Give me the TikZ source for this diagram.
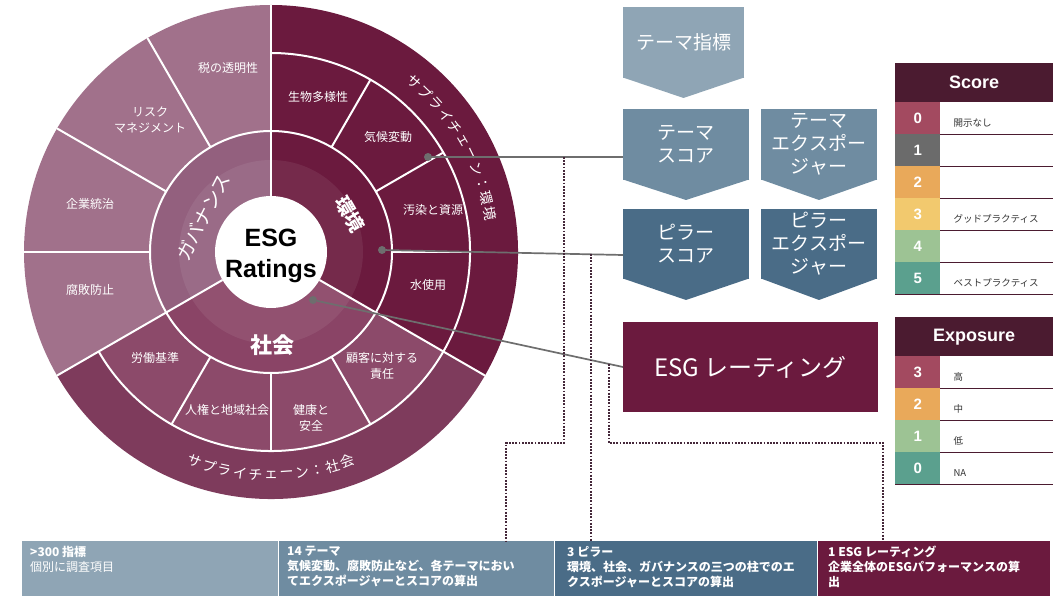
\documentclass[tikz,border=0pt]{standalone}
\usepackage{fontspec}
\setmainfont{Liberation Sans}
\newfontfamily\jp{Noto Sans CJK JP}
\usetikzlibrary{calc}
\definecolor{envc}{HTML}{6B1A3E}
\definecolor{socP}{HTML}{8A4466}
\definecolor{socT}{HTML}{8C4A6A}
\definecolor{socS}{HTML}{7E3B5C}
\definecolor{govP}{HTML}{93607E}
\definecolor{govT}{HTML}{A1718B}
\definecolor{blA}{HTML}{8FA5B5}
\definecolor{blB}{HTML}{6F8CA1}
\definecolor{blC}{HTML}{4A6C87}
\definecolor{hdr}{HTML}{4B1B30}
\definecolor{conn}{HTML}{6E6E6E}
\definecolor{dotc}{HTML}{45283A}
\definecolor{sc0}{HTML}{A34A60}
\definecolor{sc1}{HTML}{6B6B6B}
\definecolor{sc2}{HTML}{E9A95A}
\definecolor{sc3}{HTML}{F2C96E}
\definecolor{sc4}{HTML}{9DC394}
\definecolor{sc5}{HTML}{5BA08E}
\definecolor{lbl}{HTML}{333333}
\begin{document}
\begin{tikzpicture}[x=1pt,y=1pt,
  wlabel/.style={text=white,font=\jp\fontsize{12}{16}\selectfont,align=center,inner sep=0},
  arclabel/.style={text=white,font=\jp\fontsize{14}{14}\selectfont,inner sep=0},
  sepline/.style={white,line width=2},
  cdot/.style={circle,fill=conn,minimum size=8,inner sep=0},
  connline/.style={conn,line width=1.7},
  dotline/.style={dotc,line width=1.8,dash pattern=on 1.8pt off 1.4pt},
  boxnode/.style={fill=#1,text=white,font=\jp\fontsize{19}{23}\selectfont,align=center,inner sep=0,outer sep=0,anchor=north west},
  barnode/.style={fill=#1,anchor=north west,minimum height=55,inner sep=0,outer sep=0},
  bartext/.style={anchor=north west,text=white,align=left,inner sep=0,font=\jp\fontsize{12}{15}\selectfont},
  hdrnode/.style={anchor=north west,fill=hdr,minimum width=158,minimum height=39,inner sep=0,text=white,font=\bfseries\fontsize{18}{18}\selectfont},
  numnode/.style={anchor=north west,fill=#1,minimum width=45,minimum height=32,inner sep=0,text=white,font=\bfseries\fontsize{15}{15}\selectfont},
  legtext/.style={anchor=west,inner sep=0,text=lbl,font=\jp\fontsize{9.5}{10}\selectfont}
]
\useasboundingbox (0,0) rectangle (1061,-596);
\fill[white] (0,0) rectangle (1061,-596);

% ---------------- wheel ----------------
\coordinate (C) at (271,-252);
\def\rA{56}\def\rB{121}\def\rC{199}\def\rD{247}
\fill[envc] (C) -- ++(-30:\rD) arc[start angle=-30,end angle=90,radius=\rD] -- cycle;
\fill[socS] (C) -- ++(210:\rD) arc[start angle=210,end angle=330,radius=\rD] -- cycle;
\fill[socT] (C) -- ++(210:\rC) arc[start angle=210,end angle=330,radius=\rC] -- cycle;
\fill[socP] (C) -- ++(210:\rB) arc[start angle=210,end angle=330,radius=\rB] -- cycle;
\fill[govT] (C) -- ++(90:\rD) arc[start angle=90,end angle=210,radius=\rD] -- cycle;
\fill[govP] (C) -- ++(90:\rB) arc[start angle=90,end angle=210,radius=\rB] -- cycle;
\fill[white,opacity=0.07,even odd rule] (C) circle[radius=92] (C) circle[radius=\rA];
\draw[sepline] (C) circle[radius=\rB];
\draw[sepline] ($(C)+(210:\rC)$) arc[start angle=210,end angle=450,radius=\rC];
\foreach \a in {90,210,330} \draw[sepline] ($(C)+(\a:\rA)$) -- ($(C)+(\a:\rD)$);
\foreach \a in {0,30,60,240,270,300} \draw[sepline] ($(C)+(\a:\rB)$) -- ($(C)+(\a:\rC)$);
\foreach \a in {120,150,180} \draw[sepline] ($(C)+(\a:\rB)$) -- ($(C)+(\a:\rD)$);
\node[circle,fill=white,minimum size=112,inner sep=0] (core) at (C) {};
\node[font=\bfseries\fontsize{25}{31}\selectfont,align=center,inner sep=0] (ratings) at (271,-256) {ESG\\Ratings};

% theme labels
\node[wlabel] (t1) at (228,-68) {税の透明性};
\node[wlabel] (t2) at (150,-120) {リスク\\マネジメント};
\node[wlabel] (t3) at (90,-204) {企業統治};
\node[wlabel] (t4) at (90,-290) {腐敗防止};
\node[wlabel] (t5) at (318,-97) {生物多様性};
\node[wlabel] (t6) at (388,-137) {気候変動};
\node[wlabel] (t7) at (433,-210) {汚染と資源};
\node[wlabel] (t8) at (428,-285) {水使用};
\node[wlabel] (t9) at (155,-358) {労働基準};
\node[wlabel] (t10) at (227,-410) {人権と地域社会};
\node[wlabel] (t11) at (311,-418) {健康と\\安全};
\node[wlabel] (t12) at (382,-366) {顧客に対する\\責任};

% pillar labels
\node[text=white,inner sep=0,font=\jp\bfseries\fontsize{19}{19}\selectfont,rotate=-60] (penv) at (350,-214) {環境};
\node[text=white,inner sep=0,font=\jp\fontsize{19}{19}\selectfont,rotate=63] (pgov) at (203,-217) {ガバナンス};
\node[text=white,inner sep=0,font=\jp\bfseries\fontsize{22}{22}\selectfont] (psoc) at (272,-345) {社会};

% supply chain labels, one character at a time along the outer ring
\foreach \ch [count=\n] in {サ,プ,ラ,イ,チ,ェ,ー,ン,：,環,境}{
  \pgfmathsetmacro\ang{50-4*(\n-1)}
  \node[arclabel,rotate=\ang-90] (sce\n) at ($(C)+(\ang:222)$) {\ch};
}
\foreach \ch [count=\n] in {サ,プ,ラ,イ,チ,ェ,ー,ン,：,社,会}{
  \pgfmathsetmacro\ang{250-4*(1-\n)}
  \node[arclabel,rotate=\ang+90] (scs\n) at ($(C)+(\ang:223)$) {\ch};
}

% ---------------- flow boxes ----------------
\node[boxnode=blA,minimum width=121,minimum height=71] (ind) at (623,-7) {テーマ指標};
\fill[blA] ($(ind.south west)+(0,0.5)$) -- ($(ind.south east)+(0,0.5)$) -- ($(ind.south)+(0,-20)$) -- cycle;
\node[boxnode=blB,minimum width=126,minimum height=71] (ts) at (623,-109) {テーマ\\スコア};
\fill[blB] ($(ts.south west)+(0,0.5)$) -- ($(ts.south east)+(0,0.5)$) -- ($(ts.south)+(0,-20)$) -- cycle;
\node[boxnode=blB,minimum width=116,minimum height=71] (te) at (761,-109) {テーマ\\エクスポー\\ジャー};
\fill[blB] ($(te.south west)+(0,0.5)$) -- ($(te.south east)+(0,0.5)$) -- ($(te.south)+(0,-20)$) -- cycle;
\node[boxnode=blC,minimum width=126,minimum height=70] (ps) at (623,-209) {ピラー\\スコア};
\fill[blC] ($(ps.south west)+(0,0.5)$) -- ($(ps.south east)+(0,0.5)$) -- ($(ps.south)+(0,-21)$) -- cycle;
\node[boxnode=blC,minimum width=116,minimum height=70] (pe) at (761,-209) {ピラー\\エクスポー\\ジャー};
\fill[blC] ($(pe.south west)+(0,0.5)$) -- ($(pe.south east)+(0,0.5)$) -- ($(pe.south)+(0,-21)$) -- cycle;
\node[boxnode=envc,minimum width=255,minimum height=90,font=\jp\fontsize{24}{24}\selectfont] (esg) at (623,-322) {ESG レーティング};

% ---------------- bottom bar ----------------
\node[barnode=blA,minimum width=256] (bar1) at (22,-541) {};
\node[barnode=blB,minimum width=276] (bar2) at (278,-541) {};
\node[barnode=blC,minimum width=263] (bar3) at (554,-541) {};
\node[barnode=envc,minimum width=233] (bar4) at (817,-541) {};
\foreach \b in {bar2,bar3,bar4} \draw[white,line width=1] (\b.north west) -- (\b.south west);
\node[bartext] (bt1) at ($(bar1.north west)+(8,-5)$) {\textbf{>300 指標}\\個別に調査項目};
\node[bartext] (bt2) at ($(bar2.north west)+(9,-5)$) {\textbf{14 テーマ}\\\textbf{気候変動、腐敗防止など、各テーマにおい}\\\textbf{てエクスポージャーとスコアの算出}};
\node[bartext] (bt3) at ($(bar3.north west)+(13,-5)$) {\textbf{3 ピラー}\\\textbf{環境、社会、ガバナンスの三つの柱でのエ}\\\textbf{クスポージャーとスコアの算出}};
\node[bartext] (bt4) at ($(bar4.north west)+(11,-5)$) {\textbf{1 ESG レーティング}\\\textbf{企業全体のESGパフォーマンスの算}\\\textbf{出}};

% ---------------- connectors ----------------
\node[cdot] (dTheme) at (428,-157) {};
\node[cdot] (dPillar) at (382,-250) {};
\node[cdot] (dCore) at (313,-300) {};
\draw[connline] (dTheme) -- (dTheme -| ts.west);
\draw[connline] (dPillar) -- ($(ps.west)+(0,-11)$);
\draw[connline] (dCore) -- (esg.west);

\coordinate (j1) at (564,-157);
\coordinate (k1) at (564,-443);
\coordinate (k2) at (506,-443);
\coordinate (j2) at (591,-254);
\coordinate (j3) at (609,-364);
\coordinate (k3) at (609,-443);
\coordinate (k4) at (883,-443);
\draw[dotline] (j1) -- (k1) -- (k2) -- (k2 |- bar2.north);
\draw[dotline] (j2) -- (j2 |- bar3.north);
\draw[dotline] (j3) -- (k3) -- (k4) -- (k4 |- bar4.north);

% ---------------- legends ----------------
\node[hdrnode] (scoreH) at (895,-63) {Score};
\foreach \i/\c/\t in {0/sc0/開示なし,1/sc1/,2/sc2/,3/sc3/グッドプラクティス,4/sc4/,5/sc5/ベストプラクティス}{
  \node[numnode=\c] (s\i) at (895,{-102-32*\i}) {\i};
  \node[legtext] (sl\i) at ($(s\i.east)+(13,-5)$) {\t};
  \draw[hdr,line width=0.8] (s\i.south west) -- ++(158,0);
}
\node[hdrnode] (expH) at (895,-317) {Exposure};
\foreach \k/\i/\c/\t in {0/3/sc0/高,1/2/sc2/中,2/1/sc4/低,3/0/sc5/NA}{
  \node[numnode=\c] (e\k) at (895,{-356-32*\k}) {\i};
  \node[legtext] (el\k) at ($(e\k.east)+(13,-5)$) {\t};
  \draw[hdr,line width=0.8] (e\k.south west) -- ++(158,0);
}
\end{tikzpicture}
\end{document}
